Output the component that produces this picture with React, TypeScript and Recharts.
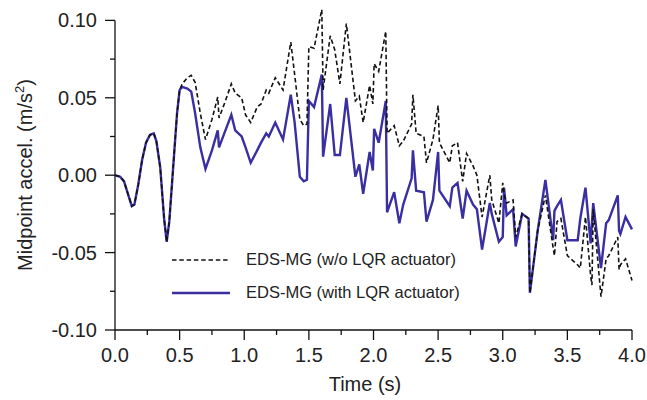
import React from "react";
import { LineChart, Line, XAxis, YAxis, Legend, ReferenceLine } from "recharts";

// time (s)
const times = [
  0.0, 0.04, 0.07, 0.1, 0.13, 0.15, 0.18, 0.21, 0.24, 0.27, 0.3, 0.32, 0.35, 0.38, 0.4, 0.42, 0.45, 0.48, 0.5,
  0.52, 0.56, 0.59, 0.62, 0.66, 0.7, 0.75, 0.795, 0.805, 0.85, 0.9, 0.93, 0.98, 1.01, 1.05, 1.1, 1.13, 1.17,
  1.19, 1.24, 1.3, 1.36, 1.39, 1.43, 1.46, 1.485, 1.5, 1.54, 1.6, 1.61, 1.665, 1.7, 1.74, 1.79, 1.86, 1.89,
  1.92, 1.97, 1.995, 2.005, 2.04, 2.095, 2.105, 2.16, 2.2, 2.23, 2.295, 2.305, 2.33, 2.39, 2.41, 2.46, 2.5,
  2.51, 2.59, 2.61, 2.65, 2.69, 2.72, 2.77, 2.8, 2.84, 2.9, 2.915, 2.97, 3.0, 3.01, 3.03, 3.08, 3.1, 3.15,
  3.2, 3.21, 3.27, 3.33, 3.39, 3.4, 3.42, 3.45, 3.5, 3.58, 3.6, 3.64, 3.68, 3.69, 3.7, 3.76, 3.8, 3.82, 3.89,
  3.9, 3.91, 3.95, 4.0,
];

// EDS-MG without LQR actuator (dashed)
const woLqr = [
  0.0, -0.001, -0.004, -0.012, -0.02, -0.019, -0.006, 0.01, 0.021, 0.026, 0.027, 0.022, 0.005, -0.028, -0.043, -0.03, 0.005, 0.04, 0.055,
  0.059, 0.063, 0.0645, 0.06, 0.04, 0.023, 0.036, 0.0505, 0.037, 0.047, 0.059, 0.053, 0.05, 0.039, 0.034, 0.044, 0.046, 0.055,
  0.053, 0.063, 0.055, 0.086, 0.065, 0.036, 0.032, 0.033, 0.083, 0.082, 0.107, 0.055, 0.09, 0.081, 0.059, 0.098, 0.048, 0.051,
  0.034, 0.058, 0.046, 0.072, 0.067, 0.093, 0.027, 0.032, 0.019, 0.022, 0.033, 0.052, 0.027, 0.025, 0.008, 0.023, 0.045,
  0.021, 0.008, 0.019, 0.021, -0.004, 0.014, 0.006, 0.0, -0.027, 0.0, -0.016, -0.031, -0.005, -0.012, -0.018, -0.016, -0.04, -0.025,
  -0.028, -0.076, -0.036, -0.013, -0.047, -0.052, -0.03, -0.028, -0.052, -0.058, -0.06, -0.027, -0.065, -0.071, -0.022, -0.0785, -0.054, -0.052, -0.04,
  -0.061, -0.058, -0.054, -0.068,
];

// EDS-MG with LQR actuator (solid)
const withLqr = [
  0.0, -0.001, -0.004, -0.012, -0.02, -0.019, -0.006, 0.01, 0.021, 0.026, 0.027, 0.022, 0.005, -0.028, -0.043, -0.03, 0.005, 0.04, 0.055,
  0.057, 0.056, 0.054, 0.04, 0.018, 0.004, 0.016, 0.029, 0.018, 0.028, 0.039, 0.029, 0.025, 0.018, 0.008, 0.016, 0.021, 0.027,
  0.025, 0.034, 0.023, 0.052, 0.034, -0.001, -0.004, -0.003, 0.048, 0.044, 0.065, 0.012, 0.046, 0.013, 0.013, 0.05, -0.001, 0.007,
  -0.012, 0.015, 0.003, 0.03, 0.021, 0.048, -0.024, -0.011, -0.031, -0.019, -0.002, 0.016, -0.01, -0.011, -0.03, -0.016, 0.015,
  -0.01, -0.02, -0.008, -0.005, -0.028, -0.01, -0.019, -0.022, -0.048, -0.018, -0.025, -0.043, -0.04, -0.008, -0.026, -0.022, -0.046, -0.025,
  -0.028, -0.076, -0.036, -0.003, -0.042, -0.023, -0.02, -0.016, -0.042, -0.042, -0.028, -0.008, -0.044, -0.031, -0.018, -0.06, -0.031, -0.029, -0.013,
  -0.036, -0.038, -0.027, -0.035,
];

const xTicks = [0, 0.25, 0.5, 0.75, 1, 1.25, 1.5, 1.75, 2, 2.25, 2.5, 2.75, 3, 3.25, 3.5, 3.75, 4];
const yTicks = [-0.1, -0.075, -0.05, -0.025, 0, 0.025, 0.05, 0.075, 0.1];

const data = times.map((t, i) => ({ t, wo: woLqr[i], with: withLqr[i] }));

const FONT = "'Liberation Sans', Arial, sans-serif";
const TEXT = "#222";
const BLUE = "#3a2fa2";

const isMajor = (v: number, step: number) => Math.abs(v / step - Math.round(v / step)) < 1e-6;

const XTick = ({ x, y, payload }: any) => {
  const major = isMajor(payload.value, 0.5);
  return (
    <g>
      <line x1={x} x2={x} y1={y} y2={y + (major ? 10 : 5)} stroke="#111" strokeWidth={1.3} />
      {major && (
        <text x={x} y={y + 32} textAnchor="middle" fontSize={20} fontFamily={FONT} fill={TEXT}>
          {payload.value.toFixed(1)}
        </text>
      )}
    </g>
  );
};

const YTick = ({ x, y, payload }: any) => {
  const major = isMajor(payload.value, 0.05);
  return (
    <g>
      <line x1={x - (major ? 10 : 5)} x2={x} y1={y} y2={y} stroke="#111" strokeWidth={1.3} />
      {major && (
        <text x={x - 18} y={y + 7} textAnchor="end" fontSize={20} fontFamily={FONT} fill={TEXT}>
          {payload.value.toFixed(2)}
        </text>
      )}
    </g>
  );
};

const legendItems = [
  { key: "wo", label: "EDS-MG (w/o LQR actuator)", color: "#111", dash: "4.5 2.8", width: 1.6 },
  { key: "with", label: "EDS-MG (with LQR actuator)", color: BLUE, dash: undefined, width: 2.4 },
];

const LegendBox = () => (
  <div style={{ fontFamily: FONT, fontSize: 16.5, color: TEXT }}>
    {legendItems.map((it) => (
      <div key={it.key} style={{ display: "flex", alignItems: "center", height: 33 }}>
        <svg width={58} height={10} style={{ display: "block" }}>
          <line x1={0} x2={58} y1={5} y2={5} stroke={it.color} strokeWidth={it.width} strokeDasharray={it.dash} />
        </svg>
        <span style={{ marginLeft: 16, whiteSpace: "nowrap" }}>{it.label}</span>
      </div>
    ))}
  </div>
);

export default function App() {
  return (
    <div style={{ position: "absolute", left: 0, top: 0, width: 647, height: 400, background: "#fff" }}>
      <LineChart width={647} height={400} data={data} margin={{ top: 8, right: 15, bottom: 0, left: 0 }}>
        <XAxis
          dataKey="t"
          type="number"
          domain={[0, 4]}
          ticks={xTicks}
          interval={0}
          tickSize={0}
          tickMargin={0}
          tickLine={false}
          tick={<XTick />}
          height={70}
          axisLine={{ stroke: "#111", strokeWidth: 1.3 }}
          label={{
            content: () => (
              <text x={365} y={391} textAnchor="middle" fontSize={20} fontFamily={FONT} fill={TEXT}>
                Time (s)
              </text>
            ),
          }}
        />
        <YAxis
          type="number"
          domain={[-0.1, 0.108]}
          ticks={yTicks}
          interval={0}
          width={115}
          tickSize={0}
          tickMargin={0}
          tickLine={false}
          axisLine={false}
          tick={<YTick />}
          label={{
            content: () => (
              <text
                x={0}
                y={0}
                transform="translate(32 175) rotate(-90)"
                textAnchor="middle"
                fontSize={20}
                fontFamily={FONT}
                fill={TEXT}
              >
                Midpoint accel. (m/s
                <tspan dy={-8} fontSize={13}>2</tspan>
                <tspan dy={8}>)</tspan>
              </text>
            ),
          }}
        />
        <ReferenceLine
          segment={[{ x: 0, y: -0.1 }, { x: 0, y: 0.1 }]}
          stroke="#111"
          strokeWidth={1.3}
        />
        <Line
          dataKey="with"
          stroke={BLUE}
          strokeWidth={2.4}
          dot={false}
          type="linear"
          isAnimationActive={false}
        />
        <Line
          dataKey="wo"
          stroke="#111"
          strokeWidth={1.6}
          strokeDasharray="4.5 2.8"
          dot={false}
          type="linear"
          isAnimationActive={false}
        />
        <Legend
          layout="horizontal"
          verticalAlign="middle"
          align="center"
          content={<LegendBox />}
          wrapperStyle={{ position: "absolute", left: 172, top: 243, width: 320 }}
        />
      </LineChart>
    </div>
  );
}
